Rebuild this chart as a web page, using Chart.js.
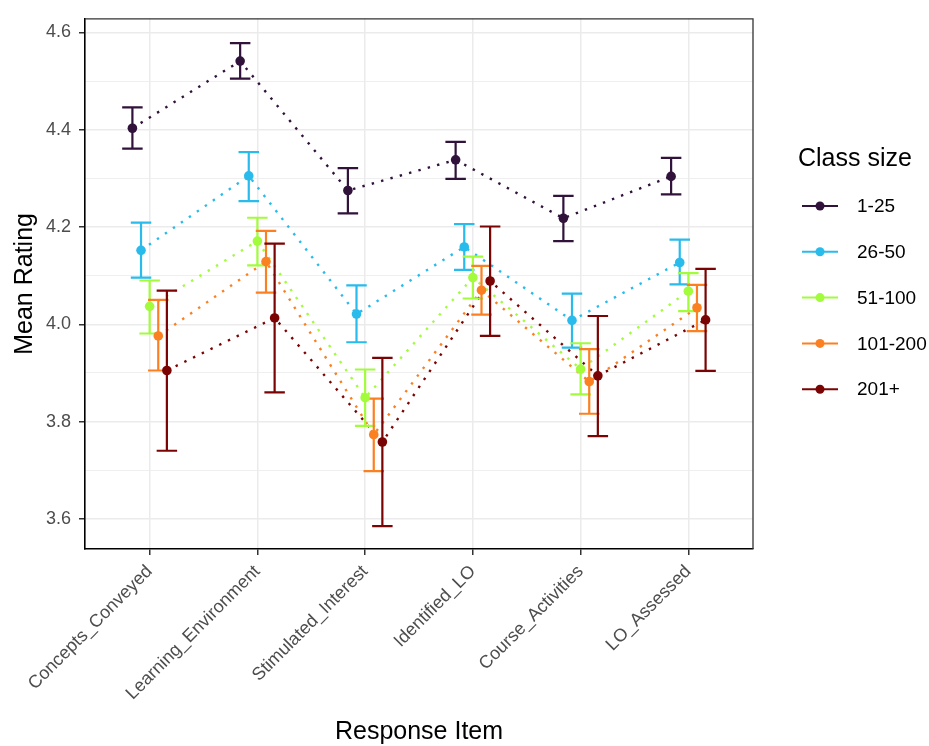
<!DOCTYPE html>
<html lang="en">
<head>
<meta charset="UTF-8">
<title>Mean rating by response item and class size</title>
<style>
  body { margin: 0; background: #fff; }
  #wrap { width: 929px; height: 746px; }
</style>
</head>
<body>
<div id="wrap"><canvas id="chart"></canvas></div>

<script src="https://cdn.jsdelivr.net/npm/chart.js"></script>
<script>
// categories and groups
const items = ["Concepts_Conveyed", "Learning_Environment", "Stimulated_Interest",
               "Identified_LO", "Course_Activities", "LO_Assessed"];
const classSizes = ["1-25", "26-50", "51-100", "101-200", "201+"];
const yTicks = [3.6, 3.8, 4.0, 4.2, 4.4, 4.6];
const yMinorTicks = [3.7, 3.9, 4.1, 4.3, 4.5];

// mean rating and error bar ends, one set per class size
const mean_1_25  = [4.403, 4.541, 4.275, 4.338, 4.218, 4.304];
const upper_1_25 = [4.446, 4.578, 4.321, 4.375, 4.264, 4.342];
const lower_1_25 = [4.361, 4.505, 4.228, 4.299, 4.171, 4.267];

const mean_26_50  = [4.152, 4.305, 4.021, 4.159, 4.008, 4.127];
const upper_26_50 = [4.209, 4.354, 4.080, 4.206, 4.063, 4.174];
const lower_26_50 = [4.096, 4.253, 3.963, 4.112, 3.952, 4.082];

const mean_51_100  = [4.037, 4.171, 3.849, 4.096, 3.908, 4.068];
const upper_51_100 = [4.090, 4.219, 3.907, 4.139, 3.961, 4.105];
const lower_51_100 = [3.981, 4.121, 3.791, 4.053, 3.856, 4.027];

const mean_101_200  = [3.976, 4.129, 3.773, 4.070, 3.882, 4.034];
const upper_101_200 = [4.050, 4.192, 3.847, 4.120, 3.949, 4.081];
const lower_101_200 = [3.905, 4.065, 3.698, 4.020, 3.816, 3.986];

const mean_201  = [3.905, 4.013, 3.758, 4.089, 3.894, 4.009];
const upper_201 = [4.069, 4.166, 3.931, 4.201, 4.017, 4.114];
const lower_201 = [3.740, 3.860, 3.585, 3.976, 3.770, 3.904];

const means  = [mean_1_25, mean_26_50, mean_51_100, mean_101_200, mean_201];
const uppers = [upper_1_25, upper_26_50, upper_51_100, upper_101_200, upper_201];
const lowers = [lower_1_25, lower_26_50, lower_51_100, lower_101_200, lower_201];

// styling
const colors = ["#30123B", "#28BBEC", "#A2FC3C", "#FB8022", "#7A0403"];
const dodge = [-0.16, -0.08, 0, 0.08, 0.16];
const capHalf = 0.095;

Chart.defaults.font.family = "'Liberation Sans', Arial, sans-serif";

function pts(g) {
    return means[g].map((v, i) => ({ x: i + dodge[g], y: v }));
}

const datasets = [];
// points (index 0..4), drawn on top
classSizes.forEach((name, g) => {
    datasets.push({
        type: "scatter",
        label: name,
        data: pts(g),
        showLine: false,
        pointRadius: 4.8,
        pointBackgroundColor: colors[g],
        pointBorderWidth: 0,
        order: 9 - g
    });
});
// dotted lines (index 5..9), drawn first
classSizes.forEach((name, g) => {
    datasets.push({
        type: "line",
        label: name + " line",
        data: pts(g),
        borderColor: colors[g],
        borderWidth: 2.4,
        borderDash: [2.4, 7.3],
        pointRadius: 0,
        fill: false,
        order: 14 - g
    });
});

const errorBars = {
    id: "errorBars",
    beforeDatasetDraw(chart, args) {
        if (args.index !== 0) return;
        const ctx = chart.ctx;
        const xs = chart.scales.x, ys = chart.scales.y;
        ctx.save();
        ctx.lineWidth = 2.2;
        classSizes.forEach((_, g) => {
            ctx.strokeStyle = colors[g];
            items.forEach((_, i) => {
                const xc = i + dodge[g];
                const x = xs.getPixelForValue(xc);
                const x0 = xs.getPixelForValue(xc - capHalf);
                const x1 = xs.getPixelForValue(xc + capHalf);
                const yt = ys.getPixelForValue(uppers[g][i]);
                const yb = ys.getPixelForValue(lowers[g][i]);
                ctx.beginPath();
                ctx.moveTo(x, yt); ctx.lineTo(x, yb);
                ctx.moveTo(x0, yt); ctx.lineTo(x1, yt);
                ctx.moveTo(x0, yb); ctx.lineTo(x1, yb);
                ctx.stroke();
            });
        });
        ctx.restore();
    }
};

const panelAndLegend = {
    id: "panelAndLegend",
    afterDraw(chart) {
        const ctx = chart.ctx;
        const a = chart.chartArea;
        ctx.save();
        // top and right panel border
        ctx.strokeStyle = "#333333";
        ctx.lineWidth = 1.3;
        ctx.beginPath();
        ctx.moveTo(a.left, a.top); ctx.lineTo(a.right, a.top); ctx.lineTo(a.right, a.bottom);
        ctx.stroke();

        // legend
        ctx.fillStyle = "#000";
        ctx.textBaseline = "middle";
        ctx.textAlign = "left";
        ctx.font = "25px 'Liberation Sans', Arial, sans-serif";
        ctx.fillText("Class size", 798, 159);
        ctx.font = "19px 'Liberation Sans', Arial, sans-serif";
        classSizes.forEach((name, g) => {
            const y = 206 + g * 45.8;
            ctx.strokeStyle = colors[g];
            ctx.lineWidth = 2;
            ctx.beginPath();
            ctx.moveTo(802, y); ctx.lineTo(838, y);
            ctx.stroke();
            ctx.fillStyle = colors[g];
            ctx.beginPath();
            ctx.arc(820, y, 4.5, 0, Math.PI * 2);
            ctx.fill();
            ctx.fillStyle = "#000";
            ctx.fillText(name, 857, y + 1);
        });
        ctx.restore();
    }
};

new Chart(document.getElementById("chart"), {
    data: { datasets: datasets },
    options: {
        responsive: true,
        maintainAspectRatio: false,
        animation: false,
        layout: { padding: { top: 6, right: 176, left: 0, bottom: 0 } },
        plugins: {
            legend: { display: false },
            tooltip: { enabled: false }
        },
        scales: {
            x: {
                type: "linear",
                min: -0.6,
                max: 5.6,
                afterBuildTicks: (s) => { s.ticks = items.map((_, i) => ({ value: i })); },
                afterFit: (s) => { s.height = 197; },
                ticks: {
                    autoSkip: false,
                    minRotation: 45,
                    maxRotation: 45,
                    padding: 6,
                    color: "#4d4d4d",
                    font: { size: 18 },
                    callback: (v) => items[v]
                },
                grid: {
                    color: "#ebebeb",
                    lineWidth: 1.5,
                    tickColor: "#333333",
                    tickLength: 6,
                    tickWidth: 1.5
                },
                border: { display: true, color: "#000", width: 1.6 },
                title: {
                    display: true,
                    text: "Response Item",
                    color: "#000",
                    font: { size: 25, lineHeight: 1.1 },
                    padding: { top: 0, bottom: 0 }
                }
            },
            y: {
                min: 3.538,
                max: 4.628,
                afterBuildTicks: (s) => {
                    s.ticks = yTicks.concat(yMinorTicks).sort((a, b) => a - b).map(v => ({ value: v }));
                },
                afterFit: (s) => { s.width = 85; },
                ticks: {
                    padding: 8,
                    color: "#4d4d4d",
                    font: { size: 18 },
                    callback: (v) => yTicks.includes(v) ? v.toFixed(1) : ""
                },
                grid: {
                    color: "#ebebeb",
                    lineWidth: (c) => yTicks.includes(c.tick.value) ? 1.5 : 0.8,
                    tickColor: (c) => yTicks.includes(c.tick.value) ? "#333333" : "rgba(0,0,0,0)",
                    tickLength: 6,
                    tickWidth: 1.5
                },
                border: { display: true, color: "#000", width: 1.6 },
                title: {
                    display: true,
                    text: "Mean Rating",
                    color: "#000",
                    font: { size: 25 },
                    padding: { top: 10, bottom: 0 }
                }
            }
        }
    },
    plugins: [errorBars, panelAndLegend]
});
</script>
</body>
</html>
